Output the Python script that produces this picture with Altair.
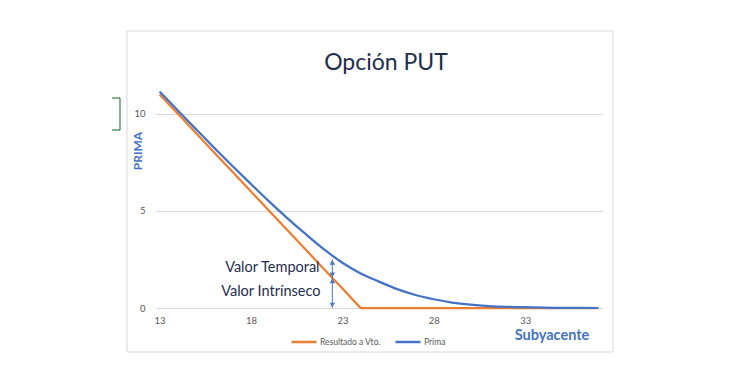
import altair as alt
import pandas as pd

# ---- data ----
subyacente = [13, 14, 15, 16, 17, 18, 19, 20, 21, 22, 23, 24, 25,
              26, 27, 28, 29, 30, 31, 32, 33, 34, 35, 36, 37]
resultado_vto = [11, 10, 9, 8, 7, 6, 5, 4, 3, 2, 1, 0, 0,
                 0, 0, 0, 0, 0, 0, 0, 0, 0, 0, 0, 0]
prima = [11.15, 10.17, 9.2, 8.24, 7.3, 6.38, 5.48, 4.62, 3.8, 3.02, 2.33, 1.78, 1.36,
         0.97, 0.67, 0.45, 0.28, 0.17, 0.1, 0.06, 0.04, 0.02, 0.01, 0.01, 0.0]
series_names = ["Resultado a Vto.", "Prima"]
series_colors = ["#ED7D31", "#4472C4"]

x_ticks = [13, 18, 23, 28, 33]
y_ticks = [0, 5, 10]

# annotation (arrow at S=22.45)
arrow_x = 22.45
arrow_prima = 2.5
arrow_intrinseco = 1.55
labels_text = ["Valor Temporal", "Valor Intrínseco"]
labels_x = [21.75, 21.8]
labels_y = [2.06, 0.82]

title_text = "Opción PUT"
y_title = "PRIMA"
x_title = "Subyacente"

FONT = "Lato"
BLUE = "#4472C4"

rows = []
for s, r, p in zip(subyacente, resultado_vto, prima):
    rows.append({"S": s, "v": r, "serie": series_names[0]})
    rows.append({"S": s, "v": p, "serie": series_names[1]})
df = pd.DataFrame(rows)

xs = alt.Scale(domain=[12.75, 37.2], nice=False, zero=False)
ys = alt.Scale(domain=[0, 12], nice=False, zero=True)

color = alt.Color(
    "serie:N",
    scale=alt.Scale(domain=series_names, range=series_colors),
    legend=alt.Legend(
        orient="none", legendX=135, legendY=253, direction="horizontal",
        title=None, symbolType="stroke", symbolStrokeWidth=2.5, symbolSize=625,
        labelFontSize=8.5, labelColor="#595959", labelFont=FONT,
        columnPadding=9, labelOffset=2,
    ),
)

one = pd.DataFrame({"k": [0]})

border = alt.Chart(one).mark_rect(fill=None, stroke="#d9d9d9", strokeWidth=1, clip=False).encode(
    x=alt.value(-28), x2=alt.value(458), y=alt.value(-44), y2=alt.value(277)
)

base = alt.Chart(df)
x_enc = alt.X("S:Q", scale=xs,
              axis=alt.Axis(values=x_ticks, title=None, grid=False, ticks=False, domain=False,
                            labelFont=FONT, labelFontSize=9.5, labelColor="#595959", labelPadding=7))
y_enc = alt.Y("v:Q", scale=ys,
              axis=alt.Axis(values=y_ticks, title=None, grid=True, gridColor="#d9d9d9", ticks=False,
                            domain=False, labelFont=FONT, labelFontSize=9.5, labelColor="#595959",
                            labelPadding=10))

line_orange = base.transform_filter(alt.datum.serie == series_names[0]).mark_line(
    strokeWidth=2.25).encode(x=x_enc, y=y_enc, color=color)
line_blue = base.transform_filter(alt.datum.serie == series_names[1]).mark_line(
    strokeWidth=2.25, interpolate="monotone").encode(x=x_enc, y=y_enc, color=color)

arr = pd.DataFrame({
    "x": [arrow_x, arrow_x],
    "y1": [arrow_prima, arrow_intrinseco],
    "y2": [arrow_intrinseco, 0],
})
arrow_color = "#4a78c2"
arrow_lines = alt.Chart(arr).mark_rule(color=arrow_color, strokeWidth=1).encode(
    x=alt.X("x:Q", scale=xs), y=alt.Y("y1:Q", scale=ys), y2="y2:Q")

heads_up = pd.DataFrame({"x": [arrow_x, arrow_x], "y": [arrow_prima, arrow_intrinseco]})
heads_dn = pd.DataFrame({"x": [arrow_x, arrow_x], "y": [arrow_intrinseco, 0]})
up = alt.Chart(heads_up).mark_point(shape="triangle-up", filled=True, size=30, color=arrow_color,
                                     yOffset=3, opacity=1).encode(
    x=alt.X("x:Q", scale=xs), y=alt.Y("y:Q", scale=ys))
dn = alt.Chart(heads_dn).mark_point(shape="triangle-down", filled=True, size=30, color=arrow_color,
                                     yOffset=-3, opacity=1).encode(
    x=alt.X("x:Q", scale=xs), y=alt.Y("y:Q", scale=ys))

ann = pd.DataFrame({"t": labels_text, "x": labels_x, "y": labels_y})
ann_text = alt.Chart(ann).mark_text(align="right", baseline="middle", font=FONT, fontSize=14.5,
                                     color="#1f2d4d").encode(
    x=alt.X("x:Q", scale=xs), y=alt.Y("y:Q", scale=ys), text="t:N")

title = alt.Chart(one).mark_text(text=title_text, font=FONT, fontSize=23, color="#1f2d4d",
                                  align="center", baseline="middle").encode(
    x=alt.value(231), y=alt.value(-12))
ytitle = alt.Chart(one).mark_text(text=y_title, font=FONT, fontSize=12, fontWeight="bold",
                                   color=BLUE, angle=270, align="center", baseline="middle").encode(
    x=alt.value(-17), y=alt.value(76))
xtitle = alt.Chart(one).mark_text(text=x_title, font=FONT, fontSize=14.5, fontWeight="bold",
                                   color=BLUE, align="center", baseline="middle").encode(
    x=alt.value(397), y=alt.value(261))

green = "#3a7d44"
br_v = alt.Chart(one).mark_rule(color=green, strokeWidth=1.2).encode(
    x=alt.value(-35), y=alt.value(23), y2=alt.value(55))
br_t = alt.Chart(one).mark_rule(color=green, strokeWidth=1.2).encode(
    x=alt.value(-43), x2=alt.value(-35), y=alt.value(23))
br_b = alt.Chart(one).mark_rule(color=green, strokeWidth=1.2).encode(
    x=alt.value(-43), x2=alt.value(-35), y=alt.value(55))

chart = alt.layer(
    border, line_orange, line_blue, arrow_lines, up, dn, ann_text, title, ytitle, xtitle,
    br_v, br_t, br_b
).properties(
    width=447, height=233,
    background="white",
    autosize=alt.AutoSizeParams(type="none"),
    padding={"left": 147, "top": 67, "right": 142, "bottom": 65},
).configure_view(stroke=None)

chart.save("out.html", embed_options={"renderer": "svg", "actions": False})
